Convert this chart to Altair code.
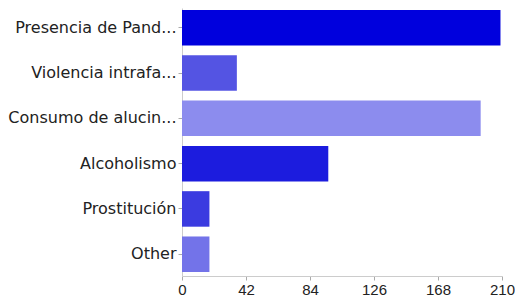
import altair as alt
import pandas as pd

categories = ["Presencia de Pand...", "Violencia intrafa...", "Consumo de alucin...",
              "Alcoholismo", "Prostitución", "Other"]
values = [209, 36, 196, 96, 18, 18]
colors = ["#0000DD", "#5454E3", "#8C8CEE", "#1C1CDE", "#3B3BE0", "#7373E9"]
x_ticks = [0, 42, 84, 126, 168, 210]

df = pd.DataFrame({"cat": categories, "val": values, "col": colors})

chart = alt.Chart(df).mark_bar(stroke=None).encode(
    y=alt.Y("cat:N", sort=categories, title=None,
            scale=alt.Scale(paddingInner=0.216, paddingOuter=0.066, align=0.33),
            axis=alt.Axis(labelFont="DejaVu Sans", labelFontSize=16, labelColor="#222222",
                          domainColor="#CCCCCC", tickColor="#AAAAAA", tickSize=4,
                          labelPadding=2, labelLimit=300)),
    x=alt.X("val:Q", title=None,
            scale=alt.Scale(domain=[0, 210], nice=False),
            axis=alt.Axis(values=x_ticks, grid=False, labelFont="Liberation Sans",
                          labelFontSize=15, labelColor="#222222", domainColor="#CCCCCC",
                          tickColor="#AAAAAA", tickSize=4, labelPadding=2,
                          labelFlush=False)),
    color=alt.Color("col:N", scale=None, legend=None),
).properties(
    width=320, height=268,
    autosize=alt.AutoSizeParams(type="none"),
    padding={"left": 174, "top": 0, "right": 13, "bottom": 21},
).configure_view(stroke=None)

chart.save("out.html", embed_options={"renderer": "svg", "actions": False})
